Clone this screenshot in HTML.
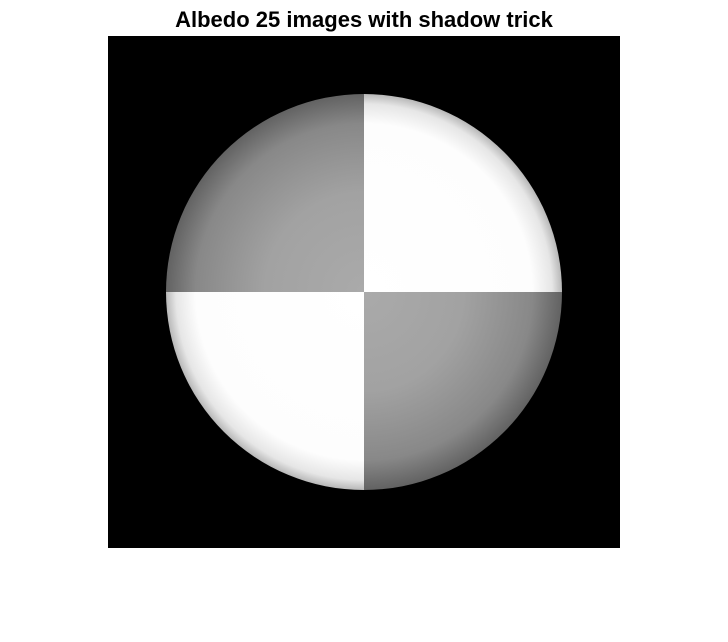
<!DOCTYPE html>
<html><head><meta charset="utf-8"><style>
html,body{margin:0;padding:0;background:#fff;width:728px;height:642px;overflow:hidden}
svg{display:block}
</style></head><body>
<svg width="728" height="642">
<defs>
<radialGradient id="gGray" cx="364" cy="292" r="198" gradientUnits="userSpaceOnUse">
<stop offset="0" stop-color="#aaaaaa"/><stop offset="0.5" stop-color="#a2a2a2"/><stop offset="0.85" stop-color="#888888"/><stop offset="1" stop-color="#626262"/>
</radialGradient>
<radialGradient id="gWhite" cx="364" cy="292" r="198" gradientUnits="userSpaceOnUse">
<stop offset="0" stop-color="#ffffff"/><stop offset="0.85" stop-color="#fdfdfd"/><stop offset="0.95" stop-color="#e6e6e6"/><stop offset="1" stop-color="#b8b8b8"/>
</radialGradient>
<clipPath id="circ"><circle cx="364" cy="292" r="198"/></clipPath>
</defs>
<text x="364" y="27" text-anchor="middle" font-family="Liberation Sans, sans-serif" font-weight="bold" font-size="22" fill="#000">Albedo 25 images with shadow trick</text>
<rect x="108" y="36" width="512" height="512" fill="#000"/>
<g id="quads" clip-path="url(#circ)"></g>
</svg>
<script>
const quadrantNames = ["top-left","top-right","bottom-left","bottom-right"];
const quadrantAlbedo = ["gray","white","white","gray"];
const cx = 364, cy = 292, R = 198;
const g = document.getElementById('quads');
quadrantNames.forEach((n, i) => {
  const r = document.createElementNS('http://www.w3.org/2000/svg', 'rect');
  const left = n.includes('left'), top = n.includes('top');
  r.setAttribute('x', left ? cx - R : cx);
  r.setAttribute('y', top ? cy - R : cy);
  r.setAttribute('width', R);
  r.setAttribute('height', R);
  r.setAttribute('fill', quadrantAlbedo[i] === 'gray' ? 'url(#gGray)' : 'url(#gWhite)');
  
  
  g.appendChild(r);
});
</script>
</body></html>
